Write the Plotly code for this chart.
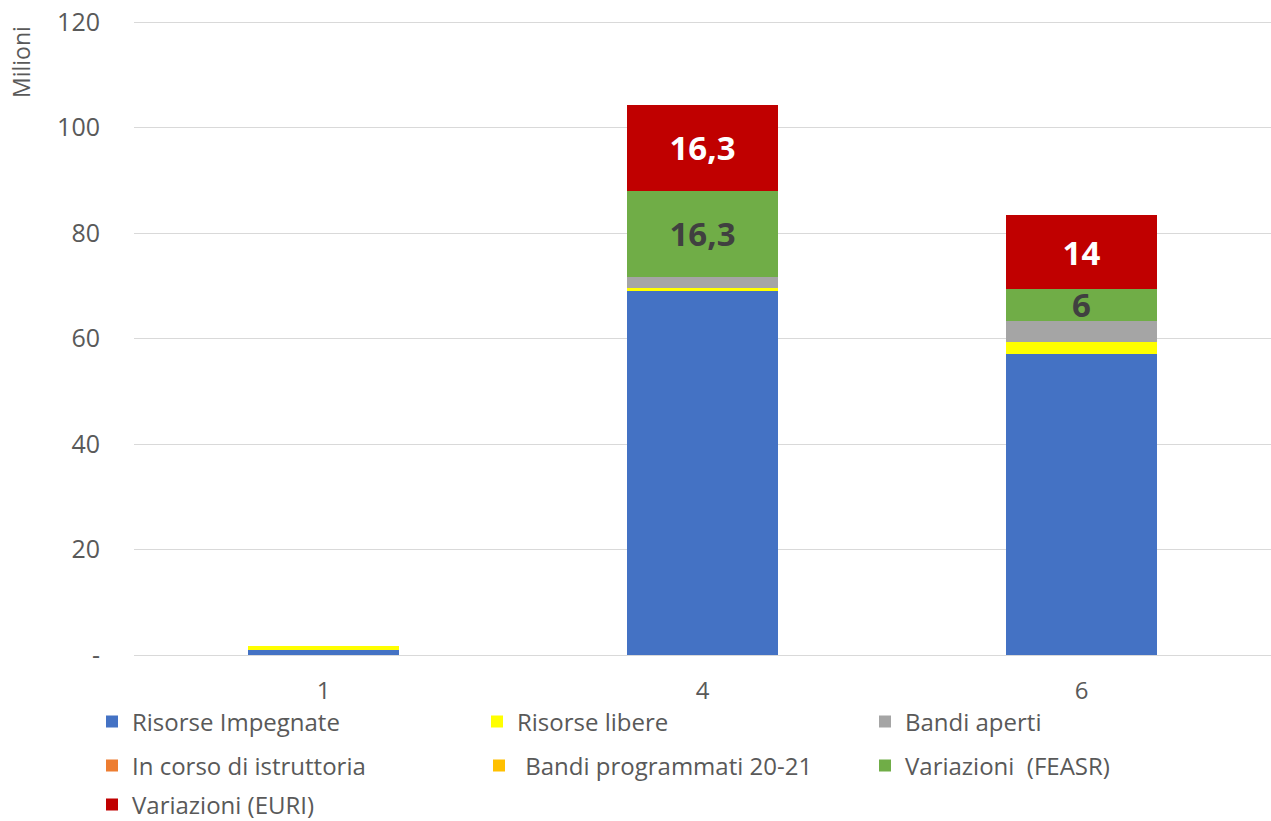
import plotly.graph_objects as go

categories = ["1", "4", "6"]
risorse_impegnate = [1.0, 69.0, 57.1]
risorse_libere = [0.8, 0.6, 2.3]
bandi_aperti = [0.0, 2.1, 4.0]
in_corso_istruttoria = [0.0, 0.0, 0.0]
bandi_programmati = [0.0, 0.0, 0.0]
variazioni_feasr = [0.0, 16.3, 6.0]
variazioni_euri = [0.0, 16.3, 14.0]
feasr_labels = ["", "16,3", "6"]
euri_labels = ["", "16,3", "14"]
y_ticks = [0, 20, 40, 60, 80, 100, 120]
y_ticktext = ["-", "20", "40", "60", "80", "100", "120"]

series = [
    ("Risorse Impegnate", risorse_impegnate, "#4472C4", None, None),
    ("Risorse libere", risorse_libere, "#FFFF00", None, None),
    ("Bandi aperti", bandi_aperti, "#A5A5A5", None, None),
    ("In corso di istruttoria", in_corso_istruttoria, "#ED7D31", None, None),
    (" Bandi programmati 20-21", bandi_programmati, "#FFC000", None, None),
    ("Variazioni  (FEASR)", variazioni_feasr, "#70AD47", feasr_labels, "#404040"),
    ("Variazioni (EURI)", variazioni_euri, "#C00000", euri_labels, "#FFFFFF"),
]

# legend slot (left px of legend box, row center px), screen coords
legend_slots = [(92, 722), (477, 722), (865, 722),
                (92, 766), (479, 766), (865, 766),
                (92, 805)]

W, H = 1271, 821
ML, MR, MT, MB = 134, 0, 21, 166
PW, PH = W - ML - MR, H - MT - MB


def px_to_paper(sx, sy):
    return (sx - ML) / PW, (H - MB - sy) / PH


fig = go.Figure()
legends = {}
for i, (name, vals, color, labels, tcolor) in enumerate(series):
    kw = {}
    if labels is not None:
        kw = dict(text=labels, textposition="inside", insidetextanchor="middle",
                  textangle=0,
                  textfont=dict(color=tcolor, size=33, family="Open Sans", weight="bold"))
    lname = "legend" if i == 0 else f"legend{i+1}"
    fig.add_trace(go.Bar(x=categories, y=vals, name=name, marker_color=color,
                         marker_line_width=0, hoverinfo="skip", legend=lname, **kw))
    lx, ly = px_to_paper(*legend_slots[i])
    legends[lname] = dict(x=lx, y=ly, xanchor="left", yanchor="middle",
                          orientation="h", bgcolor="rgba(0,0,0,0)",
                          font=dict(size=24, color="#595959", family="Open Sans"),
                          itemwidth=30)

fig.update_layout(
    barmode="stack",
    bargap=0.6,
    width=W, height=H,
    margin=dict(l=ML, r=MR, t=MT, b=MB, autoexpand=False),
    plot_bgcolor="white", paper_bgcolor="white",
    font=dict(family="Open Sans", color="#595959", size=24),
    uniformtext=dict(minsize=28, mode="show"),
    showlegend=True,
    xaxis=dict(type="category", showline=True, linecolor="#D9D9D9", linewidth=1,
               ticks="", ticklabelstandoff=14, tickfont=dict(size=24, color="#595959")),
    yaxis=dict(range=[0, 120.2], tickvals=y_ticks, ticktext=y_ticktext,
               showgrid=True, gridcolor="#D9D9D9", gridwidth=1,
               zeroline=False, ticks="", ticklabelstandoff=33,
               tickfont=dict(size=25, color="#595959")),
    **legends,
)
ax, ay = px_to_paper(3, 24)
fig.add_annotation(text="Milioni", xref="paper", yref="paper", x=ax, y=ay,
                   xanchor="left", yanchor="top", textangle=-90, showarrow=False,
                   font=dict(size=23, color="#595959"))

fig.write_html("out.html", config={"displayModeBar": False},
               post_script="document.body.style.margin='0';document.body.style.overflow='hidden';")
